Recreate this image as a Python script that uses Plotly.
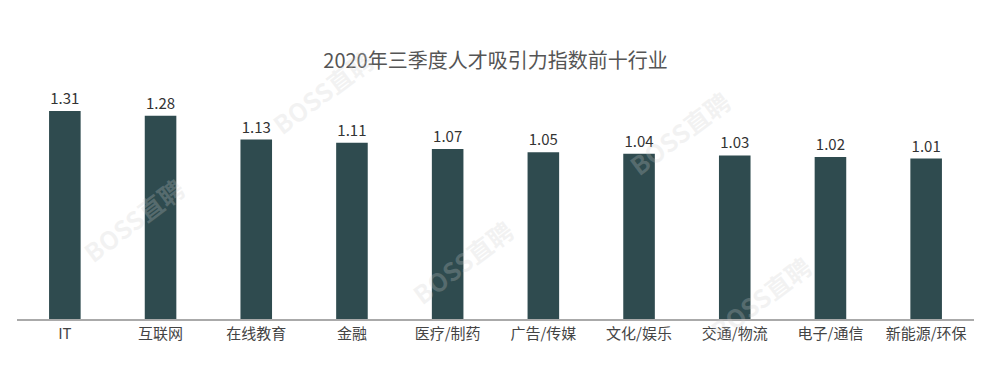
import plotly.graph_objects as go

categories = ["IT", "互联网", "在线教育", "金融", "医疗/制药", "广告/传媒", "文化/娱乐", "交通/物流", "电子/通信", "新能源/环保"]
values = [1.31, 1.28, 1.13, 1.11, 1.07, 1.05, 1.04, 1.03, 1.02, 1.01]
title_text = "2020年三季度人才吸引力指数前十行业"
watermark_text = "BOSS直聘"

FONT = "Noto Sans CJK SC, Noto Sans, sans-serif"
L, R, T, B = 17, 34, 90, 49
W, H = 1008, 368

fig = go.Figure()
fig.add_trace(go.Bar(
    x=categories, y=values,
    marker=dict(color="#2F4B4F", line=dict(width=0)),
    text=[f"{v:.2f}" for v in values],
    textposition="outside",
    textfont=dict(family=FONT, size=15, color="#333333"),
    cliponaxis=False,
    width=0.33,
    hoverinfo="skip",
))

# faint watermarks (pixel positions converted to plot-domain fractions)
wm_positions = [(322, 92), (133, 220), (462, 262), (679, 133), (760, 298)]
pw, ph = W - L - R, H - T - B
for (px, py) in wm_positions:
    fig.add_annotation(
        x=(px - L) / pw, y=(H - B - py) / ph, xref="paper", yref="paper",
        xanchor="center", yanchor="middle",
        text=f"<b>{watermark_text}</b>", showarrow=False, textangle=-37,
        font=dict(family=FONT, size=25, color="rgba(205,205,205,0.25)"),
    )

fig.update_layout(
    width=W, height=H,
    margin=dict(l=L, r=R, t=T, b=B, autoexpand=False),
    paper_bgcolor="white", plot_bgcolor="white",
    showlegend=False,
    title=dict(text=title_text, x=0.5, xref="paper", y=1 - 61 / H, yref="container",
               xanchor="center", yanchor="middle",
               font=dict(family=FONT, size=20, color="#555555")),
    bargap=0.67,
    xaxis=dict(showline=True, linecolor="#AAAAAA", linewidth=2, ticks="",
               tickfont=dict(family=FONT, size=15, color="#444444"),
               showgrid=False, zeroline=False, fixedrange=True, automargin=False),
    yaxis=dict(visible=False, range=[0, 1.442], showgrid=False, zeroline=False, fixedrange=True),
)

fig.write_html("out.html", config={"displayModeBar": False},
               post_script="document.body.style.margin='0';")
